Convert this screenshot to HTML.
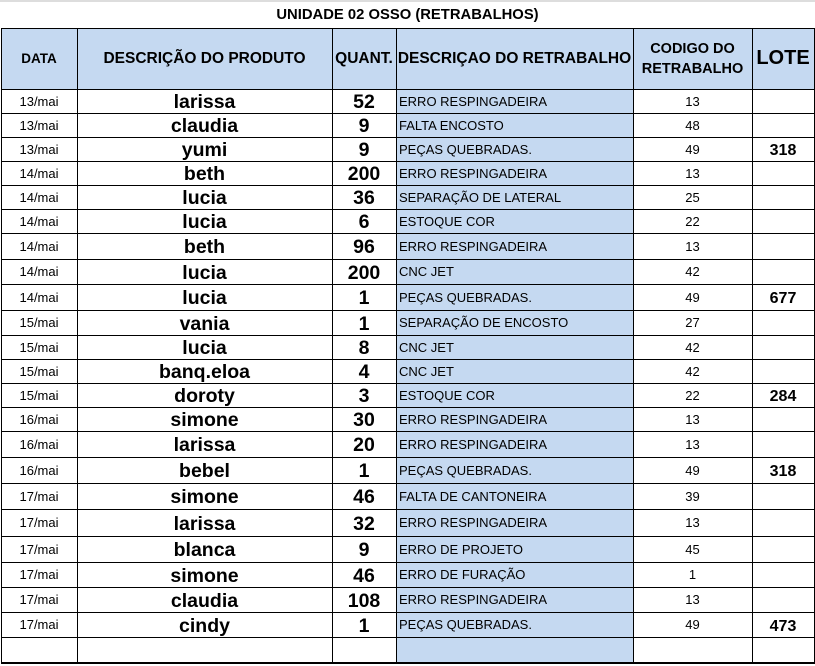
<!DOCTYPE html>
<html><head><meta charset="utf-8"><style>
body{margin:0;width:815px;height:666px;background:#fff;position:relative;overflow:hidden;font-family:"Liberation Sans",sans-serif}
.c{position:absolute;box-sizing:border-box;display:flex;align-items:center;justify-content:center;white-space:nowrap;color:#000}
.l{justify-content:flex-start;padding-left:3px}
.h{position:absolute;background:#000;height:1px}
.v{position:absolute;background:#000;width:1px}
</style></head><body>
<div class="c" style="left:0;top:0;width:815px;height:28px;font-weight:bold;font-size:14.8px;border-top:2px solid #ddd">UNIDADE 02 OSSO (RETRABALHOS)</div>
<div id="t"></div>
<script>
const dates=["13/mai","13/mai","13/mai","14/mai","14/mai","14/mai","14/mai","14/mai","14/mai","15/mai","15/mai","15/mai","15/mai","16/mai","16/mai","16/mai","17/mai","17/mai","17/mai","17/mai","17/mai","17/mai",""];
const names=["larissa","claudia","yumi","beth","lucia","lucia","beth","lucia","lucia","vania","lucia","banq.eloa","doroty","simone","larissa","bebel","simone","larissa","blanca","simone","claudia","cindy",""];
const qty=["52","9","9","200","36","6","96","200","1","1","8","4","3","30","20","1","46","32","9","46","108","1",""];
const descs=["ERRO RESPINGADEIRA","FALTA ENCOSTO","PEÇAS QUEBRADAS.","ERRO RESPINGADEIRA","SEPARAÇÃO DE LATERAL","ESTOQUE COR","ERRO RESPINGADEIRA","CNC JET","PEÇAS QUEBRADAS.","SEPARAÇÃO DE ENCOSTO","CNC JET","CNC JET","ESTOQUE COR","ERRO RESPINGADEIRA","ERRO RESPINGADEIRA","PEÇAS QUEBRADAS.","FALTA DE CANTONEIRA","ERRO RESPINGADEIRA","ERRO DE PROJETO","ERRO DE FURAÇÃO","ERRO RESPINGADEIRA","PEÇAS QUEBRADAS.",""];
const codes=["13","48","49","13","25","22","13","42","49","27","42","42","22","13","13","49","39","13","45","1","13","49",""];
const lotes=["","","318","","","","","","677","","","","284","","","318","","","","","","473",""];
const rowLines=[89,113,137,161,185,209,233,259,284,310,335,359,383,407,431,457,483,509,536,562,587,612,637,662];
const cols=[1,77,332,396,633,752,814];
const t=document.getElementById('t');
function cell(x,y,w,h,txt,style,cls){const d=document.createElement('div');d.className='c'+(cls?' '+cls:'');d.style.cssText=`left:${x}px;top:${y}px;width:${w}px;height:${h}px;`+style;d.textContent=txt;t.appendChild(d);return d;}
const hb=cell(cols[0],28,cols[6]-cols[0],61,'','background:#c5d9f1');


const heads=[["DATA","font-size:13.5px"],["DESCRIÇÃO DO PRODUTO","font-size:15.5px"],["QUANT.","font-size:15.5px"],["DESCRIÇAO DO RETRABALHO","font-size:15.5px"],["CODIGO DO<br>RETRABALHO","font-size:14.5px;text-align:center;line-height:20px"],["LOTE","font-size:20px"]];
const hnames=['header-data','header-produto','header-quant','header-retrabalho','header-codigo','header-lote'];
heads.forEach((h,i)=>{const d=cell(cols[i],28,cols[i+1]-cols[i],61,'','font-weight:bold;'+h[1]);d.innerHTML=h[0];

});
for(let r=0;r<dates.length;r++){
 const y=rowLines[r],h=rowLines[r+1]-y;
 let d;
 d=cell(cols[0],y,cols[1]-cols[0],h,dates[r],'font-size:13px');
 
 
 d=cell(cols[1],y,cols[2]-cols[1],h,names[r],'font-size:19.5px;font-weight:bold;padding-top:3px');
 
 
 d=cell(cols[2],y,cols[3]-cols[2],h,qty[r],'font-size:19.5px;font-weight:bold;padding-top:3px');
 
 
 d=cell(cols[3],y,cols[4]-cols[3],h,descs[r],'font-size:13px;background:#c5d9f1','l');
 
 
 d=cell(cols[4],y,cols[5]-cols[4],h,codes[r],'font-size:13px');
 
 
 d=cell(cols[5],y,cols[6]-cols[5],h,lotes[r],'font-size:16px;font-weight:bold;padding-top:4px');
 
 
}
[28].concat(rowLines).forEach(y=>{const l=document.createElement('div');l.className='h';l.style.cssText=`left:${cols[0]}px;top:${y}px;width:${cols[6]-cols[0]+1}px`+(y==662?';height:2px':'');


t.appendChild(l);});
cols.forEach(x=>{const l=document.createElement('div');l.className='v';l.style.cssText=`left:${x}px;top:28px;height:636px`;


t.appendChild(l);});
</script>
</body></html>
